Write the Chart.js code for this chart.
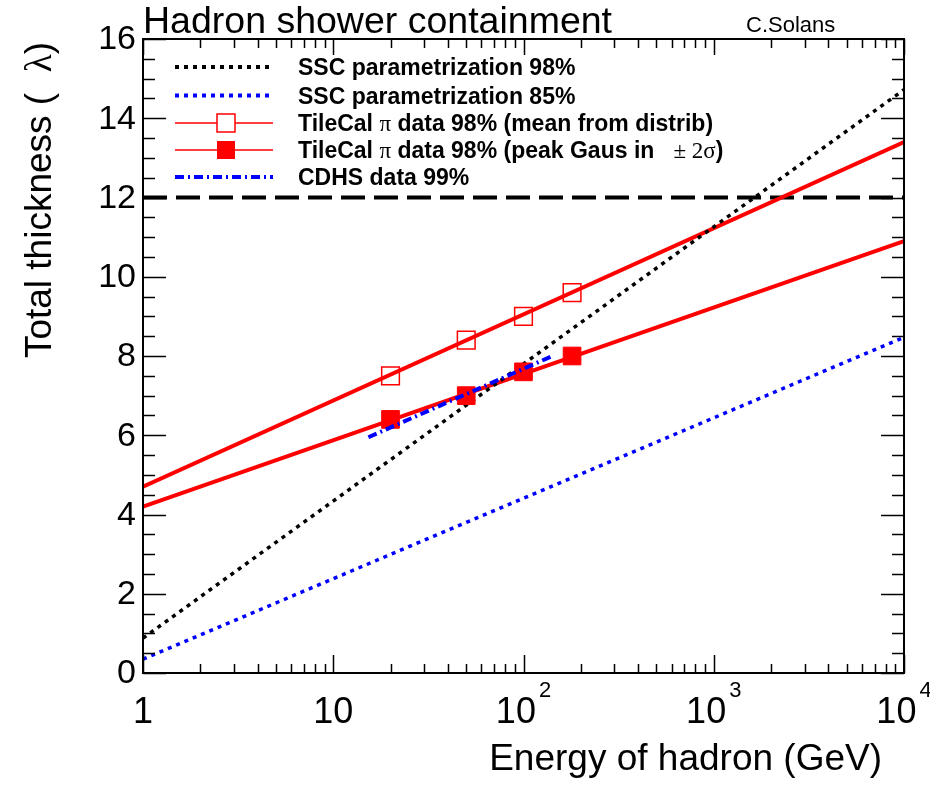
<!DOCTYPE html>
<html>
<head>
<meta charset="utf-8">
<script src="https://cdn.jsdelivr.net/npm/chart.js@4"></script>
<style>
  html, body { margin: 0; padding: 0; background: #fff; }
  #wrap { width: 930px; height: 785px; }
</style>
</head>
<body>
<div id="wrap"><canvas id="myChart" width="930" height="785"></canvas></div>
<script>
// parametrisations: straight lines in log(E), given at both ends of the range
const fitEnergy = [1, 10000];
const ssc98 = [0.88, 14.72];
const ssc85 = [0.35, 8.47];
const meanFit = [4.7, 13.4];
const peakFit = [4.2, 10.9];
const limitLevel = [12, 12];

// TileCal pion points
const tileEnergy = [20, 50, 100, 180];
const tileMean = [7.5, 8.4, 9.0, 9.6];
const tilePeak = [6.4, 7.0, 7.6, 8.0];

// CDHS 99%
const cdhsEnergy = [15.3, 142];
const cdhsDepth = [5.95, 8.0];

// axes
const yTicks = [0, 2, 4, 6, 8, 10, 12, 14, 16];
const yMinorStep = 0.5;
const xDecades = [1, 10, 100, 1000, 10000];
const xTickLabels = [['1', ''], ['10', ''], ['10', '2'], ['10', '3'], ['10', '4']];

const SANS = '"Liberation Sans", Arial, Helvetica, sans-serif';
const SERIF = '"Liberation Serif", "DejaVu Serif", serif';
const B = 'bold 23px ' + SANS;
const G = '23px ' + SERIF;

const legendRows = [
  { kind: 'dot', color: '#000', runs: [['SSC parametrization 98%', B]] },
  { kind: 'dot', color: '#0000ff', runs: [['SSC parametrization 85%', B]] },
  { kind: 'open', color: '#ff0000', runs: [['TileCal ', B], ['\u03c0', G], [' data 98% (mean from distrib)', B]] },
  { kind: 'full', color: '#ff0000', runs: [['TileCal ', B], ['\u03c0', G], [' data 98% (peak Gaus in   ', B], ['\u00b1 2\u03c3', G], [')', B]] },
  { kind: 'dashdot', color: '#0000ff', runs: [['CDHS data 99%', B]] }
];

const pts = (xs, ys) => xs.map((x, i) => ({ x: x, y: ys[i] }));

function drawRuns(ctx, runs, x, y) {
  for (const [t, f] of runs) {
    ctx.font = f;
    ctx.fillText(t, x, y);
    x += ctx.measureText(t).width;
  }
  return x;
}
function runsWidth(ctx, runs) {
  let w = 0;
  for (const [t, f] of runs) { ctx.font = f; w += ctx.measureText(t).width; }
  return w;
}

// ROOT-like frame, ticks, labels, titles and legend
const rootFrame = {
  id: 'rootFrame',
  afterDatasetsDraw(chart) {
    const { ctx, chartArea: a, scales: { x, y } } = chart;
    ctx.save();
    ctx.strokeStyle = '#000';
    ctx.fillStyle = '#000';
    ctx.setLineDash([]);

    // ticks
    ctx.lineWidth = 1.5;
    ctx.beginPath();
    for (let v = yTicks[0]; v <= yTicks[yTicks.length - 1] + 1e-9; v += yMinorStep) {
      const py = Math.round(y.getPixelForValue(v)) + 0.5;
      const len = yTicks.includes(v) ? 23 : 12;
      ctx.moveTo(a.left, py); ctx.lineTo(a.left + len, py);
      ctx.moveTo(a.right, py); ctx.lineTo(a.right - len, py);
    }
    xDecades.forEach((d, i) => {
      const px = Math.round(x.getPixelForValue(d)) + 0.5;
      ctx.moveTo(px, a.bottom); ctx.lineTo(px, a.bottom - 18);
      ctx.moveTo(px, a.top); ctx.lineTo(px, a.top + 16);
      if (i < xDecades.length - 1) {
        for (let k = 2; k <= 9; k++) {
          const mx = Math.round(x.getPixelForValue(d * k)) + 0.5;
          ctx.moveTo(mx, a.bottom); ctx.lineTo(mx, a.bottom - 9);
          ctx.moveTo(mx, a.top); ctx.lineTo(mx, a.top + 9);
        }
      }
    });
    ctx.stroke();

    ctx.lineWidth = 2;
    ctx.strokeRect(a.left, a.top, a.right - a.left, a.bottom - a.top);

    // y tick labels
    ctx.font = '34px ' + SANS;
    ctx.textAlign = 'right';
    ctx.textBaseline = 'middle';
    yTicks.forEach(v => ctx.fillText(String(v), 136, y.getPixelForValue(v) + 1));

    // x tick labels with exponents
    ctx.textBaseline = 'alphabetic';
    ctx.textAlign = 'left';
    xTickLabels.forEach(([base, exp], i) => {
      const px = x.getPixelForValue(xDecades[i]);
      ctx.font = '36px ' + SANS;
      const wb = ctx.measureText(base).width;
      ctx.font = '22px ' + SANS;
      const we = exp ? ctx.measureText(exp).width + 3 : 0;
      const x0 = px - (wb + we) / 2;
      ctx.font = '36px ' + SANS;
      ctx.fillText(base, x0, 723);
      if (exp) { ctx.font = '22px ' + SANS; ctx.fillText(exp, x0 + wb + 3, 697); }
    });

    // titles
    ctx.font = '37.5px ' + SANS;
    ctx.fillText('Hadron shower containment', 143, 33);
    ctx.font = '22px ' + SANS;
    ctx.fillText('C.Solans', 746, 32);
    ctx.font = '37px ' + SANS;
    ctx.textAlign = 'right';
    ctx.fillText('Energy of hadron (GeV)', 882, 770);

    // y title, rotated, aligned to the top of the frame
    const yRuns = [['Total thickness (  ', '37px ' + SANS], ['\u03bb', '37px ' + SERIF], [')', '37px ' + SANS]];
    ctx.save();
    ctx.translate(51, 42);
    ctx.rotate(-Math.PI / 2);
    ctx.textAlign = 'left';
    drawRuns(ctx, yRuns, -runsWidth(ctx, yRuns), 0);
    ctx.restore();

    // legend
    const rowY = [67, 95.5, 123, 150, 177];
    const lx0 = 175, lx1 = 273, lmid = 226, textX = 298;
    ctx.textAlign = 'left';
    legendRows.forEach((r, i) => {
      const ly = rowY[i];
      ctx.strokeStyle = r.color;
      ctx.fillStyle = r.color;
      ctx.beginPath();
      if (r.kind === 'dot') {
        ctx.lineWidth = 4; ctx.setLineDash([4, 5]);
        ctx.moveTo(lx0, ly); ctx.lineTo(lx1, ly); ctx.stroke();
      } else if (r.kind === 'dashdot') {
        ctx.lineWidth = 4; ctx.setLineDash([9, 4, 2, 4]);
        ctx.moveTo(lx0, ly); ctx.lineTo(lx1, ly); ctx.stroke();
      } else {
        ctx.lineWidth = 1.5; ctx.setLineDash([]);
        ctx.moveTo(lx0, ly); ctx.lineTo(lmid - 9, ly);
        ctx.moveTo(lmid + 9, ly); ctx.lineTo(lx1, ly);
        if (r.kind === 'full') { ctx.moveTo(lmid - 9, ly); ctx.lineTo(lmid + 9, ly); }
        ctx.stroke();
        if (r.kind === 'open') ctx.strokeRect(lmid - 9, ly - 9, 18, 18);
        else ctx.fillRect(lmid - 9, ly - 9, 18, 18);
      }
      ctx.setLineDash([]);
      ctx.fillStyle = '#000';
      drawRuns(ctx, r.runs, textX, ly + 8);
    });
    ctx.restore();
  }
};

const lineSet = (label, xs, ys, color, width, dash) => ({
  label: label,
  data: pts(xs, ys),
  showLine: true,
  borderColor: color,
  borderWidth: width,
  borderDash: dash,
  pointRadius: 0,
  fill: false
});

const ctx = document.getElementById('myChart').getContext('2d');
new Chart(ctx, {
  type: 'scatter',
  data: {
    datasets: [
      lineSet('CDHS data 99%', cdhsEnergy, cdhsDepth, '#0000ff', 4, [9, 4, 2, 4]),
      {
        label: 'TileCal pi data 98% (peak Gaus in +-2 sigma)',
        data: pts(tileEnergy, tilePeak),
        pointStyle: 'rect',
        pointRadius: 12.5,
        pointBackgroundColor: '#ff0000',
        pointBorderColor: '#ff0000',
        pointBorderWidth: 1,
        showLine: false
      },
      {
        label: 'TileCal pi data 98% (mean from distrib)',
        data: pts(tileEnergy, tileMean),
        pointStyle: 'rect',
        pointRadius: 12.5,
        pointBackgroundColor: 'rgba(0,0,0,0)',
        pointBorderColor: '#ff0000',
        pointBorderWidth: 1.5,
        showLine: false
      },
      lineSet('SSC parametrization 98%', fitEnergy, ssc98, '#000000', 3.5, [4, 5]),
      lineSet('SSC parametrization 85%', fitEnergy, ssc85, '#0000ff', 3.5, [4, 5]),
      lineSet('peak fit', fitEnergy, peakFit, '#ff0000', 4, []),
      lineSet('mean fit', fitEnergy, meanFit, '#ff0000', 4, []),
      lineSet('limit', fitEnergy, limitLevel, '#000000', 4, [24, 9])
    ]
  },
  options: {
    responsive: false,
    animation: false,
    devicePixelRatio: 1,
    layout: { padding: { left: 143, right: 26, top: 39, bottom: 112 } },
    plugins: { legend: { display: false }, tooltip: { enabled: false } },
    scales: {
      x: { type: 'logarithmic', min: 1, max: 10000, display: false },
      y: { type: 'linear', min: 0, max: 16, display: false }
    }
  },
  plugins: [rootFrame]
});
</script>
</body>
</html>
